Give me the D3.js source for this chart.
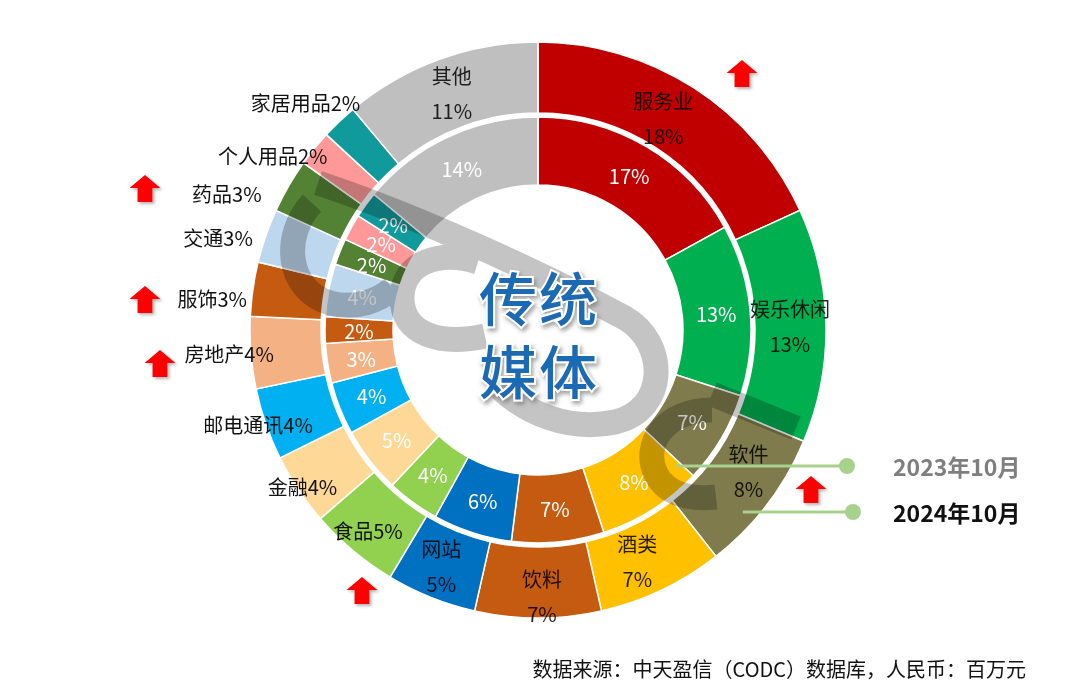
<!DOCTYPE html>
<html><head><meta charset="utf-8">
<script src="https://cdn.jsdelivr.net/npm/d3@7"></script>
<style>
html,body{margin:0;padding:0;background:#fff;}
svg{display:block;font-family:"Noto Sans CJK SC","Noto Sans",sans-serif;}
</style></head><body>
<svg id="chart" width="1080" height="697"></svg>
<script>
// ---------- data ----------
const categories = ["服务业","娱乐休闲","软件","酒类","饮料","网站","食品","金融","邮电通讯","房地产","服饰","交通","药品","个人用品","家居用品","其他"];
const values2024 = [18,13,8,7,7,5,5,4,4,4,3,3,3,2,2,11];
const values2023 = [17,13,7,8,7,6,4,5,4,3,2,4,2,2,2,14];
const colors = ["#C00000","#00B050","#7F7B4C","#FFC000","#C55A11","#0070C0","#92D050","#FDD896","#00B0F0","#F4B183","#C55A11","#BDD7EE","#548235","#FF9999","#119A9B","#BFBFBF"];
const seriesLabels = ["2023年10月","2024年10月"];
const centerTitle = ["传统","媒体"];
const sourceNote = "数据来源：中天盈信（CODC）数据库，人民币：百万元";

// ---------- layout ----------
const cx = 538, cy = 330;
const inner = {r0:145, r1:213};
const outer = {r0:217, r1:288};
const twoLine = new Set(["服务业","娱乐休闲","软件","酒类","饮料","网站","其他"]);
const oneLineInside = new Set(["食品"]);
const insideNudge = {"服务业":[-11,0],"软件":[10,-11],"饮料":[4,14],"酒类":[-9,4],"食品":[-8,7],"网站":[-3,3]};
const outsideNudge = {"金融":[39,-3],"邮电通讯":[47,0],"房地产":[23,1],"服饰":[-6,9],"交通":[-13,2],"药品":[-27,7],"个人用品":[13,7],"家居用品":[21,-19]};
const arrowAt = {"服务业":[742,60],"软件":[811,476],"药品":[145,175],"服饰":[145,286],"房地产":[160,350],"食品":[362,577]};

const svg = d3.select("#chart");
const defs = svg.append("defs");
const sh = defs.append("filter").attr("id","shadow").attr("x","-30%").attr("y","-30%").attr("width","160%").attr("height","160%");
sh.append("feDropShadow").attr("dx",2).attr("dy",2).attr("stdDeviation",1.6).attr("flood-color","#777").attr("flood-opacity",0.55);
const sh2 = defs.append("filter").attr("id","tshadow").attr("x","-30%").attr("y","-30%").attr("width","160%").attr("height","160%");
sh2.append("feDropShadow").attr("dx",2).attr("dy",3).attr("stdDeviation",2).attr("flood-color","#666").attr("flood-opacity",0.6);

const pie = d3.pie().sort(null).value(d => d.v).startAngle(0).endAngle(2*Math.PI);
const data24 = pie(categories.map((c,i)=>({c, v:values2024[i], col:colors[i]})));
const data23 = pie(categories.map((c,i)=>({c, v:values2023[i], col:colors[i]})));

const g = svg.append("g").attr("transform",`translate(${cx},${cy})`);
const arcIn = d3.arc().innerRadius(inner.r0).outerRadius(inner.r1);
const arcOut = d3.arc().innerRadius(outer.r0).outerRadius(outer.r1);

g.selectAll("path.in").data(data23).join("path").attr("class","in")
  .attr("d",arcIn).attr("fill",d=>d.data.col).attr("stroke","#fff").attr("stroke-width",1.5);
g.selectAll("path.out").data(data24).join("path").attr("class","out")
  .attr("d",arcOut).attr("fill",d=>d.data.col).attr("stroke","#fff").attr("stroke-width",1.5);

// ---------- watermark (approximate) ----------
const wm = svg.append("g").attr("fill","none").attr("stroke","#8a8a8a").attr("stroke-width",25)
  .style("mix-blend-mode","multiply").attr("opacity",0.5);
[
 "M318,183 C400,210 520,262 625,318 C668,343 668,410 615,422 C568,432 525,412 500,388",
 "M485,336 C440,346 402,334 402,298 C402,262 440,250 478,262",
 "M312,203 C282,235 286,290 330,303 C356,310 380,300 393,288",
 "M712,410 C664,410 642,445 656,474 C666,494 690,500 716,497",
 "M712,394 L796,428"
].forEach(p => wm.append("path").attr("d",p));

// ---------- inner ring labels ----------
const midR = (outer.r0+outer.r1)/2 - 0.5;
const inR = (inner.r0+inner.r1)/2 + 0;
g.selectAll("text.inl").data(data23).join("text").attr("class","inl")
  .attr("x",d=>d3.arc().innerRadius(inR).outerRadius(inR).centroid(d)[0])
  .attr("y",d=>d3.arc().innerRadius(inR).outerRadius(inR).centroid(d)[1])
  .attr("text-anchor","middle").attr("dominant-baseline","central")
  .attr("fill","#fff").attr("font-size",20)
  .text(d=>d.data.v+"%");

// ---------- outer ring labels ----------
data24.forEach(d => {
  const name = d.data.c, pct = d.data.v + "%";
  const a = (d.startAngle + d.endAngle)/2;
  if (twoLine.has(name) || oneLineInside.has(name)) {
    const n = insideNudge[name] || [0,0];
    const x = midR*Math.sin(a) + n[0], y = -midR*Math.cos(a) + n[1];
    if (twoLine.has(name)) {
      g.append("text").attr("x",x).attr("y",y-18).attr("text-anchor","middle").attr("dominant-baseline","central")
        .attr("font-size",20).attr("fill","#000").attr("fill-opacity",0.85).text(name);
      g.append("text").attr("x",x).attr("y",y+17).attr("text-anchor","middle").attr("dominant-baseline","central")
        .attr("font-size",20).attr("fill","#000").attr("fill-opacity",0.85).text(pct);
    } else {
      g.append("text").attr("x",x).attr("y",y).attr("text-anchor","middle").attr("dominant-baseline","central")
        .attr("font-size",20).attr("fill","#111").text(name+pct);
    }
  } else {
    const n = outsideNudge[name] || [0,0];
    const x = outer.r1*Math.sin(a) + n[0], y = -outer.r1*Math.cos(a) + n[1];
    g.append("text").attr("x",x).attr("y",y).attr("text-anchor","end").attr("dominant-baseline","central")
      .attr("font-size",20).attr("fill","#111").text(name+pct);
  }
});

// ---------- center title ----------
centerTitle.forEach((t,i) => {
  svg.append("text").attr("x",cx+1).attr("y",cy-34+i*73).attr("text-anchor","middle").attr("dominant-baseline","central")
    .attr("font-size",58).attr("font-weight",500).attr("fill","#1B6AB4")
    .attr("stroke","#fff").attr("stroke-width",4).attr("paint-order","stroke")
    .attr("filter","url(#tshadow)").attr("letter-spacing",2).text(t);
});

// ---------- increase arrows ----------
categories.forEach((c,i) => {
  if (values2024[i] > values2023[i] && arrowAt[c]) {
    const [ax, ay] = arrowAt[c];
    const p = d3.path();
    p.moveTo(ax, ay); p.lineTo(ax+15.5, ay+13); p.lineTo(ax+7.5, ay+13); p.lineTo(ax+7.5, ay+27);
    p.lineTo(ax-7.5, ay+27); p.lineTo(ax-7.5, ay+13); p.lineTo(ax-15.5, ay+13); p.closePath();
    svg.append("path").attr("d",p.toString()).attr("fill","#FF0000").attr("filter","url(#shadow)");
  }
});

// ---------- legend ----------
const legendY = [466, 512];
const legendR = [ (inner.r0+inner.r1)/2 + 15, (outer.r0+outer.r1)/2 + 21.5 ];
const legendEnd = [847, 853];
seriesLabels.forEach((s,i) => {
  const dy = legendY[i]-cy;
  const x0 = cx + Math.sqrt(legendR[i]*legendR[i] - dy*dy);
  svg.append("line").attr("x1",x0).attr("x2",legendEnd[i]).attr("y1",legendY[i]).attr("y2",legendY[i])
    .attr("stroke","#A9D18E").attr("stroke-width",3);
  svg.append("circle").attr("cx",legendEnd[i]).attr("cy",legendY[i]).attr("r",8).attr("fill","#A9D18E");
  svg.append("text").attr("x",893).attr("y",legendY[i]).attr("dominant-baseline","central")
    .attr("font-size",23).attr("font-weight",700).attr("fill", i===0 ? "#7F7F7F" : "#111").text(s);
});

// ---------- source ----------
svg.append("text").attr("x",1026).attr("y",668).attr("text-anchor","end").attr("dominant-baseline","central")
  .attr("font-size",20).attr("fill","#111").text(sourceNote);
</script>
</body></html>
